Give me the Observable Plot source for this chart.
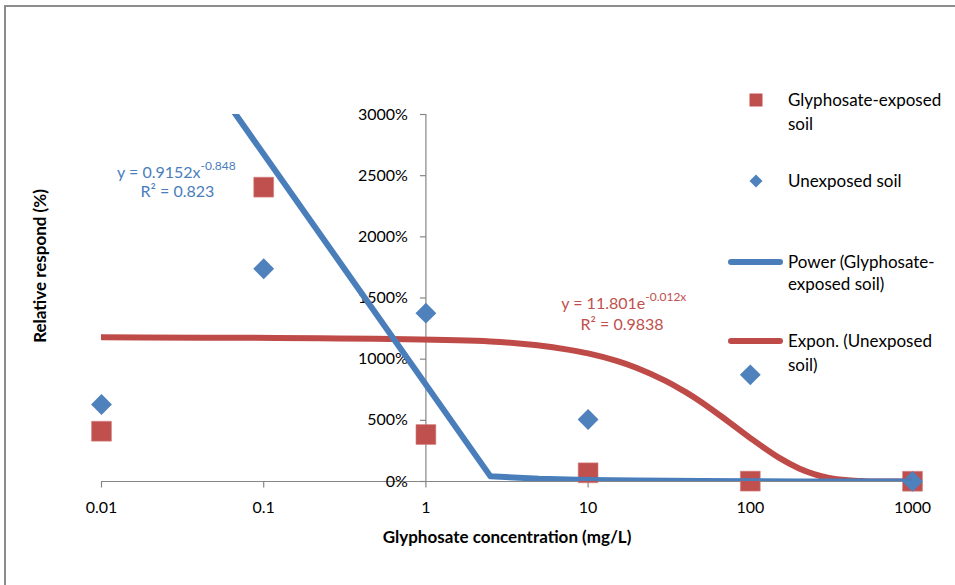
<!DOCTYPE html>
<html><head><meta charset="utf-8">
<script src="https://cdn.jsdelivr.net/npm/d3@7"></script>
<script src="https://cdn.jsdelivr.net/npm/@observablehq/plot@0.6"></script>
<style>
body{margin:0;background:#fff;}
#wrap{position:relative;width:955px;height:585px;overflow:hidden;font-family:Lato,sans-serif;background:#fff;}
#frame{position:absolute;left:4px;top:5px;width:1000px;height:1000px;border-left:2px solid #8c8c8c;border-top:2px solid #8c8c8c;}
#chart{position:absolute;left:0;top:0;}
.lt{position:absolute;font-size:17px;line-height:20px;height:20px;color:#000;white-space:nowrap;}
.sw{position:absolute;left:0;top:0;}
</style></head><body>
<div id="wrap"><div id="frame"></div><div id="chart"></div><div id="legend"></div></div>
<script>
// ---- data ----
const concentrations = [0.01, 0.1, 1, 10, 100, 1000];
const exposedResponse = [411, 2406, 384, 71, 3, 2];      // % Glyphosate-exposed soil
const unexposedResponse = [629, 1739, 1376, 507, 872, 1]; // % Unexposed soil
// trendlines as drawn (power fit of exposed, exponential fit of unexposed)
const powerX = [0.01, 2.5, 5, 10, 20, 50, 100, 200, 500, 1000];
const powerY = [4560, 42, 23, 13, 7.2, 3.3, 1.8, 1.0, 0.4, 0.3];
const exponX = [0.01, 2.5, 5, 7.5, 10, 15, 20, 30, 40, 50, 70, 100, 150, 200, 250, 300, 400, 500, 700, 1000];
const exponY = [1180, 1145, 1111, 1078, 1047, 986, 928, 823, 730, 648, 509, 355, 195, 107, 59, 32, 10, 3, 0.3, 0];
const xTicks = [0.01, 0.1, 1, 10, 100, 1000];
const xTickLabels = ["0.01", "0.1", "1", "10", "100", "1000"];
const yTicks = [0, 500, 1000, 1500, 2000, 2500, 3000];
const yTickLabels = ["0%", "500%", "1000%", "1500%", "2000%", "2500%", "3000%"];
const seriesNames = ["Glyphosate-exposed soil", "Unexposed soil", "Power (Glyphosate-exposed soil)", "Expon. (Unexposed soil)"];

const RED = "#C0504D", BLUE = "#4F81BD", LBLUE = "#4A7EBB", LRED = "#BE4B48", AX = "#868686";

const exposedData = concentrations.map((c, i) => ({c, v: exposedResponse[i]}));
const unexposedData = concentrations.map((c, i) => ({c, v: unexposedResponse[i]}));
const powerData = powerX.map((c, i) => ({c, v: powerY[i]}));
const exponData = exponX.map((c, i) => ({c, v: exponY[i]}));
const xt = xTicks.map((t, i) => ({t, label: xTickLabels[i]}));
const yt = yTicks.map((t, i) => ({t, label: yTickLabels[i]}));

const tickDown = {draw(ctx) { ctx.moveTo(0, 0); ctx.lineTo(0, 6); }};
const tickLeft = {draw(ctx) { ctx.moveTo(0, 0); ctx.lineTo(-6, 0); }};

const chart = Plot.plot({
  width: 955,
  height: 585,
  marginLeft: 101,
  marginRight: 43,
  marginTop: 114,
  marginBottom: 104,
  style: {fontFamily: "Lato, sans-serif", fontSize: "16px", color: "#000", background: "transparent", overflow: "visible"},
  x: {type: "log", domain: [0.01, 1000], axis: null},
  y: {domain: [0, 3000], axis: null},
  marks: [
    Plot.ruleY([0], {stroke: AX, strokeWidth: 1.2}),
    Plot.ruleX([1], {y1: 0, y2: 3000, stroke: AX, strokeWidth: 1.2}),
    Plot.dot(xt, {x: "t", y: () => 0, symbol: tickDown, stroke: AX, fill: "none", strokeWidth: 1.2}),
    Plot.dot(yt, {x: () => 1, y: "t", symbol: tickLeft, stroke: AX, fill: "none", strokeWidth: 1.2}),
    Plot.text(xt, {x: "t", y: () => 0, text: "label", dy: 26, fill: "#000", fontSize: 16}),
    Plot.text(yt, {x: () => 1, y: "t", text: "label", dx: -18, textAnchor: "end", fill: "#000", fontSize: 16}),
    Plot.dot(exposedData, {x: "c", y: "v", symbol: "square", r: 11.2, fill: RED, stroke: "#d08080", strokeWidth: 0.6}),
    Plot.dot(unexposedData, {x: "c", y: "v", symbol: "diamond2", r: 9.4, fill: BLUE}),
    Plot.line(exponData, {x: "c", y: "v", stroke: LRED, strokeWidth: 6, curve: "catmull-rom", clip: true}),
    Plot.line(powerData, {x: "c", y: "v", stroke: LBLUE, strokeWidth: 6, clip: true}),
    // trendline equations
    Plot.text(["y = 0.9152x"], {x: () => 0.0408, y: () => 2526, text: d => d, textAnchor: "end", fill: LBLUE, fontSize: 16}),
    Plot.text(["-0.848"], {x: () => 0.0408, y: () => 2526, text: d => d, textAnchor: "start", dy: -6, fill: LBLUE, fontSize: 12}),
    Plot.text(["R² = 0.823"], {x: () => 0.0294, y: () => 2371, text: d => d, fill: LBLUE, fontSize: 16}),
    Plot.text(["y = 11.801e"], {x: () => 22.5, y: () => 1455, text: d => d, textAnchor: "end", fill: RED, fontSize: 16}),
    Plot.text(["-0.012x"], {x: () => 22.5, y: () => 1455, text: d => d, textAnchor: "start", dy: -6, fill: RED, fontSize: 12}),
    Plot.text(["R² = 0.9838"], {x: () => 16.2, y: () => 1283, text: d => d, fill: RED, fontSize: 16}),
    // axis titles
    Plot.text(["Glyphosate concentration (mg/L)"], {frameAnchor: "bottom", lineAnchor: "middle", textAnchor: "middle", dy: 56, text: d => d, fontWeight: "bold", fontSize: 17, fill: "#000"}),
    Plot.text(["Relative respond (%)"], {frameAnchor: "left", lineAnchor: "middle", textAnchor: "middle", dx: -61, dy: -32, rotate: -90, text: d => d, fontWeight: "bold", fontSize: 17, fill: "#000"})
  ]
});
document.getElementById("chart").appendChild(chart);

// ---- legend ----
const leg = document.getElementById("legend");
const ns = "http://www.w3.org/2000/svg";
const sw = document.createElementNS(ns, "svg");
sw.setAttribute("width", 955); sw.setAttribute("height", 585); sw.setAttribute("class", "sw");
sw.innerHTML =
  `<rect x="749.5" y="93.5" width="13" height="13" fill="${RED}"/>` +
  `<path d="M756,174.5 L762.5,181 L756,187.5 L749.5,181 Z" fill="${BLUE}"/>` +
  `<line x1="731" y1="262" x2="780" y2="262" stroke="${LBLUE}" stroke-width="6" stroke-linecap="round"/>` +
  `<line x1="731" y1="341" x2="780" y2="341" stroke="${LRED}" stroke-width="6" stroke-linecap="round"/>`;
leg.appendChild(sw);
const lines = [
  ["Glyphosate-exposed", 100], ["soil", 124],
  ["Unexposed soil", 181],
  ["Power (Glyphosate-", 262], ["exposed soil)", 284],
  ["Expon. (Unexposed", 341], ["soil)", 365]
];
for (const [t, cy] of lines) {
  const d = document.createElement("div");
  d.className = "lt"; d.textContent = t;
  d.style.left = "788px"; d.style.top = (cy - 10) + "px";
  leg.appendChild(d);
}
</script>
</body></html>
